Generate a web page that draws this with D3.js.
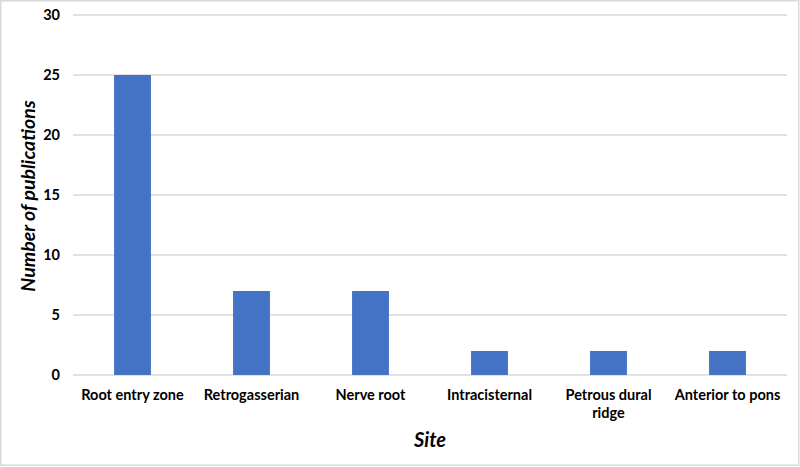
<!DOCTYPE html>
<script src="https://d3js.org/d3.v7.min.js"></script>
<style>
  body { margin: 0; background: #fff; }
  text { font-family: Lato, "Open Sans", sans-serif; fill: #000; }
</style>
<svg></svg>
<script>
    const sites = ["Root entry zone", "Retrogasserian", "Nerve root", "Intracisternal", "Petrous dural ridge", "Anterior to pons"];
    const publications = [25, 7, 7, 2, 2, 2];
    const yTicks = [0, 5, 10, 15, 20, 25, 30];

    const W = 800, H = 467;
    const margin = {top: 15, right: 13, bottom: 92, left: 73};
    const width = W - margin.left - margin.right;
    const height = H - margin.top - margin.bottom;

    const root = d3.select("svg").attr("width", W).attr("height", H);
    root.append("rect")
        .attr("x", 0.75).attr("y", 0.75)
        .attr("width", W - 2).attr("height", H - 2.5)
        .attr("fill", "#fff").attr("stroke", "#d9d9d9").attr("stroke-width", 1.5);

    const svg = root.append("g")
        .attr("transform", `translate(${margin.left}, ${margin.top})`);

    const x = d3.scaleBand().domain(sites).range([0, width]).paddingInner(0.69).paddingOuter(0.345);
    const y = d3.scaleLinear().domain([0, 30]).range([height, 0]);

    // gridlines
    svg.append("g")
        .selectAll("line")
        .data(yTicks)
        .join("line")
        .attr("x1", 0).attr("x2", width)
        .attr("y1", d => y(d)).attr("y2", d => y(d))
        .attr("stroke", "#d9d9d9").attr("stroke-width", 1.5);

    svg.selectAll("rect.bar")
        .data(publications)
        .join("rect")
        .attr("class", "bar")
        .attr("x", (d, i) => x(sites[i]))
        .attr("width", x.bandwidth())
        .attr("y", d => y(d))
        .attr("height", d => y(0) - y(d))
        .attr("fill", "#4472c4");

    const yAxis = svg.append("g").call(d3.axisLeft(y).tickValues(yTicks).tickSize(0).tickPadding(13));
    yAxis.select(".domain").remove();
    yAxis.selectAll("text").attr("font-size", 14.5).attr("font-weight", "bold")
        .style("font-family", "Lato, 'Open Sans', sans-serif").attr("fill", "#000");

    const xAxis = svg.append("g")
        .attr("transform", `translate(0, ${height})`)
        .call(d3.axisBottom(x).tickSize(0).tickPadding(0));
    xAxis.select(".domain").remove();
    xAxis.selectAll("text").remove();
    xAxis.selectAll(".tick").each(function(d) {
        const lines = d === "Petrous dural ridge" ? ["Petrous dural", "ridge"] : [d];
        const t = d3.select(this).append("text")
            .attr("text-anchor", "middle")
            .attr("font-size", 14.5).attr("font-weight", "bold")
            .attr("fill", "#000");
        lines.forEach((l, i) => t.append("tspan").attr("x", 0).attr("y", 25 + i * 18).text(l));
    });

    svg.append("text")
        .attr("text-anchor", "middle")
        .attr("x", width / 2)
        .attr("y", height + 72)
        .attr("font-size", 20).attr("font-weight", "bold").attr("font-style", "italic")
        .text("Site");
    svg.append("text")
        .attr("text-anchor", "middle")
        .attr("transform", `translate(${-margin.left + 35}, ${height / 2 + 1}) rotate(-90)`)
        .attr("font-size", 19.5).attr("font-weight", "bold").attr("font-style", "italic")
        .text("Number of publications");
</script>
